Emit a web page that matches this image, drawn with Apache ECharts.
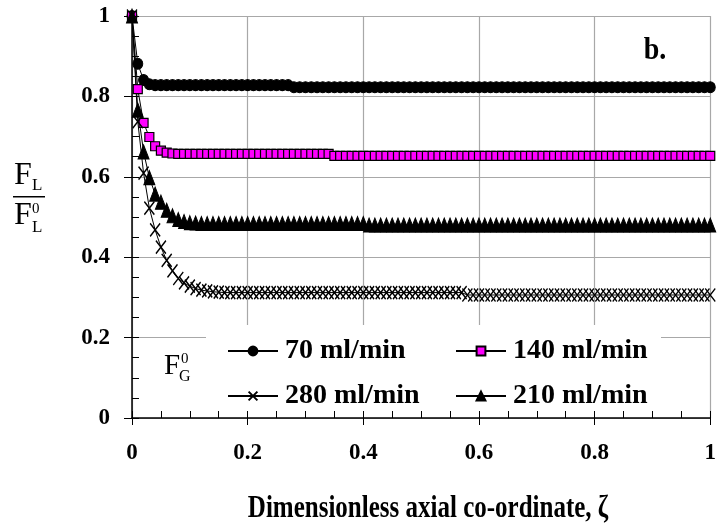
<!DOCTYPE html>
<html>
<head>
<meta charset="utf-8">
<script src="https://cdn.jsdelivr.net/npm/echarts@6/dist/echarts.min.js"></script>
<style>
html,body{margin:0;padding:0;background:#fff;}
#chart{width:719px;height:532px;}
</style>
</head>
<body>
<div id="chart"></div>
<script>
// Dimensionless axial co-ordinate (zeta)
var zeta = [0,0.01,0.02,0.03,0.04,0.05,0.06,0.07,0.08,0.09,
0.10,0.11,0.12,0.13,0.14,0.15,0.16,0.17,0.18,0.19,
0.20,0.21,0.22,0.23,0.24,0.25,0.26,0.27,0.28,0.29,
0.30,0.31,0.32,0.33,0.34,0.35,0.36,0.37,0.38,0.39,
0.40,0.41,0.42,0.43,0.44,0.45,0.46,0.47,0.48,0.49,
0.50,0.51,0.52,0.53,0.54,0.55,0.56,0.57,0.58,0.59,
0.60,0.61,0.62,0.63,0.64,0.65,0.66,0.67,0.68,0.69,
0.70,0.71,0.72,0.73,0.74,0.75,0.76,0.77,0.78,0.79,
0.80,0.81,0.82,0.83,0.84,0.85,0.86,0.87,0.88,0.89,
0.90,0.91,0.92,0.93,0.94,0.95,0.96,0.97,0.98,0.99,
1.00];

var names = ['70 ml/min','140 ml/min','280 ml/min','210 ml/min'];

var f70 = [1,0.881,0.841,0.830,0.828,0.828,0.828,0.828,0.828,0.828,
0.828,0.828,0.828,0.828,0.828,0.828,0.828,0.828,0.828,0.828,
0.828,0.828,0.828,0.828,0.828,0.828,0.828,0.828,0.823,0.823,
0.823,0.823,0.823,0.823,0.823,0.823,0.823,0.823,0.823,0.823,
0.823,0.823,0.823,0.823,0.823,0.823,0.823,0.823,0.823,0.823,
0.823,0.823,0.823,0.823,0.823,0.823,0.823,0.823,0.823,0.823,
0.823,0.823,0.823,0.823,0.823,0.823,0.823,0.823,0.823,0.823,
0.823,0.823,0.823,0.823,0.823,0.823,0.823,0.823,0.823,0.823,
0.823,0.823,0.823,0.823,0.823,0.823,0.823,0.823,0.823,0.823,
0.823,0.823,0.823,0.823,0.823,0.823,0.823,0.823,0.823,0.823,
0.823];

var f140 = [1,0.818,0.734,0.699,0.676,0.665,0.660,0.658,0.657,0.657,
0.657,0.657,0.657,0.657,0.657,0.657,0.657,0.657,0.657,0.657,
0.657,0.657,0.657,0.657,0.657,0.657,0.657,0.657,0.657,0.657,
0.657,0.657,0.657,0.657,0.657,0.652,0.652,0.652,0.652,0.652,
0.652,0.652,0.652,0.652,0.652,0.652,0.652,0.652,0.652,0.652,
0.652,0.652,0.652,0.652,0.652,0.652,0.652,0.652,0.652,0.652,
0.652,0.652,0.652,0.652,0.652,0.652,0.652,0.652,0.652,0.652,
0.652,0.652,0.652,0.652,0.652,0.652,0.652,0.652,0.652,0.652,
0.652,0.652,0.652,0.652,0.652,0.652,0.652,0.652,0.652,0.652,
0.652,0.652,0.652,0.652,0.652,0.652,0.652,0.652,0.652,0.652,
0.652];

var f280 = [1,0.737,0.609,0.522,0.468,0.425,0.392,0.366,0.347,0.336,
0.328,0.322,0.318,0.316,0.314,0.313,0.312,0.312,0.312,0.312,
0.312,0.312,0.312,0.312,0.312,0.312,0.312,0.312,0.312,0.312,
0.312,0.312,0.312,0.312,0.312,0.312,0.312,0.312,0.312,0.312,
0.312,0.312,0.312,0.312,0.312,0.312,0.312,0.312,0.312,0.312,
0.312,0.312,0.312,0.312,0.312,0.312,0.312,0.312,0.306,0.306,
0.306,0.306,0.306,0.306,0.306,0.306,0.306,0.306,0.306,0.306,
0.306,0.306,0.306,0.306,0.306,0.306,0.306,0.306,0.306,0.306,
0.306,0.306,0.306,0.306,0.306,0.306,0.306,0.306,0.306,0.306,
0.306,0.306,0.306,0.306,0.306,0.306,0.306,0.306,0.306,0.306,
0.306];

var f210 = [1,0.766,0.662,0.598,0.557,0.537,0.517,0.503,0.494,0.489,
0.486,0.485,0.484,0.484,0.484,0.484,0.484,0.484,0.484,0.484,
0.484,0.484,0.484,0.484,0.484,0.484,0.484,0.484,0.484,0.484,
0.484,0.484,0.484,0.484,0.484,0.484,0.484,0.484,0.484,0.484,
0.484,0.480,0.480,0.480,0.480,0.480,0.480,0.480,0.480,0.480,
0.480,0.480,0.480,0.480,0.480,0.480,0.480,0.480,0.480,0.480,
0.480,0.480,0.480,0.480,0.480,0.480,0.480,0.480,0.480,0.480,
0.480,0.480,0.480,0.480,0.480,0.480,0.480,0.480,0.480,0.480,
0.480,0.480,0.480,0.480,0.480,0.480,0.480,0.480,0.480,0.480,
0.480,0.480,0.480,0.480,0.480,0.480,0.480,0.480,0.480,0.480,
0.480];

function pairs(ys){ return zeta.map(function(x,i){ return [x, ys[i]]; }); }

var FONT = '"Liberation Serif","Times New Roman",serif';
var chart = echarts.init(document.getElementById('chart'), null, {renderer:'canvas'});

function lineSeries(name, ys, symbol, size, fill, border, bw){
  return {
    name: name, type: 'line', data: pairs(ys),
    xAxisIndex: 0, yAxisIndex: 0,
    symbol: symbol, symbolSize: size, showAllSymbol: true,
    lineStyle: {color:'#000', width:1},
    itemStyle: {color: fill, borderColor: border, borderWidth: bw},
    emphasis: {disabled:true},
    z: 2
  };
}

function legendAt(name, left, top){
  return {
    data:[name], left:left, top:top, padding:0,
    itemWidth:50, itemHeight:11, itemGap:0,
    textStyle:{fontFamily:FONT, fontWeight:'bold', fontSize:28, color:'#000', lineHeight:30, padding:[0,0,0,2]},
    z: 5
  };
}

var option = {
  animation: false,
  backgroundColor: '#fff',
  grid: {left:132, right:6, top:16, bottom:114, containLabel:false},
  xAxis: [
    {type:'value', min:0, max:1, interval:0.2, position:'bottom', z:0,
     axisLine:{show:true, onZero:false, lineStyle:{color:'#000', width:1.5}},
     axisTick:{show:true, inside:false, length:7, lineStyle:{color:'#000', width:1}},
     axisLabel:{fontFamily:FONT, fontWeight:'bold', fontSize:23, color:'#000', margin:24},
     splitLine:{show:true, lineStyle:{color:'#a8a8a8', width:1.2}}},
    {type:'value', min:0, max:1, interval:0.2, position:'bottom', z:3,
     axisLine:{show:false, onZero:false},
     axisTick:{show:true, inside:true, length:7, lineStyle:{color:'#000', width:1}},
     minorTick:{show:true, splitNumber:4, length:7, lineStyle:{color:'#000', width:1}},
     axisLabel:{show:false}, splitLine:{show:false}}
  ],
  yAxis: [
    {type:'value', min:0, max:1, interval:0.2, position:'left', z:0,
     axisLine:{show:true, onZero:false, lineStyle:{color:'#000', width:1.5}},
     axisTick:{show:true, inside:false, length:8, lineStyle:{color:'#000', width:1}},
     axisLabel:{fontFamily:FONT, fontWeight:'bold', fontSize:23, color:'#000', margin:22},
     splitLine:{show:true, lineStyle:{color:'#a8a8a8', width:1.2}}},
    {type:'value', min:0, max:1, interval:0.2, position:'left', z:3,
     axisLine:{show:false, onZero:false},
     axisTick:{show:true, inside:true, length:7, lineStyle:{color:'#000', width:1}},
     minorTick:{show:true, splitNumber:4, length:7, lineStyle:{color:'#000', width:1}},
     axisLabel:{show:false}, splitLine:{show:false}}
  ],
  legend: [
    legendAt(names[0], 227, 336),
    legendAt(names[1], 455, 336),
    legendAt(names[2], 227, 381),
    legendAt(names[3], 455, 381)
  ],
  graphic: [
    {type:'rect', z:1, shape:{x:206, y:325, width:455, height:92}, style:{fill:'#fff'}},
    // y-axis label F_L / F_L^0
    {type:'text', z:10, left:14, top:160, style:{text:'F', font:'32px '+FONT, fill:'#000'}},
    {type:'text', z:10, left:32, top:177, style:{text:'L', font:'17px '+FONT, fill:'#000'}},
    {type:'rect', z:10, shape:{x:13, y:196, width:32, height:1.5}, style:{fill:'#000'}},
    {type:'text', z:10, left:14, top:200, style:{text:'F', font:'32px '+FONT, fill:'#000'}},
    {type:'text', z:10, left:32, top:202, style:{text:'0', font:'15px '+FONT, fill:'#000'}},
    {type:'text', z:10, left:32, top:219, style:{text:'L', font:'17px '+FONT, fill:'#000'}},
    // F_G^0
    {type:'text', z:10, left:164, top:352, style:{text:'F', font:'29px '+FONT, fill:'#000'}},
    {type:'text', z:10, left:181, top:352, style:{text:'0', font:'15px '+FONT, fill:'#000'}},
    {type:'text', z:10, left:179, top:369, style:{text:'G', font:'16px '+FONT, fill:'#000'}},
    // panel label
    {type:'text', z:10, x:655, y:51, scaleY:1.15, style:{text:'b.', font:'bold 28px '+FONT, fill:'#000', align:'center', verticalAlign:'middle'}},
    // x-axis title
    {type:'text', z:10, x:428, y:509, scaleY:1.3, style:{text:'Dimensionless axial co-ordinate, \u03B6', font:'bold 25px '+FONT, fill:'#000', align:'center', verticalAlign:'middle'}}
  ],
  series: [
    lineSeries(names[0], f70, 'circle', [10,11], '#000', '#000', 1),
    lineSeries(names[1], f140, 'rect', [9,9], '#ff00ff', '#000', 1.2),
    lineSeries(names[2], f280, 'path://M0,0L10,13M10,0L0,13', [10,13], 'rgba(0,0,0,0)', '#000', 1.5),
    lineSeries(names[3], f210, 'triangle', [11,14], '#000', '#000', 1)
  ]
};
chart.setOption(option);
</script>
</body>
</html>
